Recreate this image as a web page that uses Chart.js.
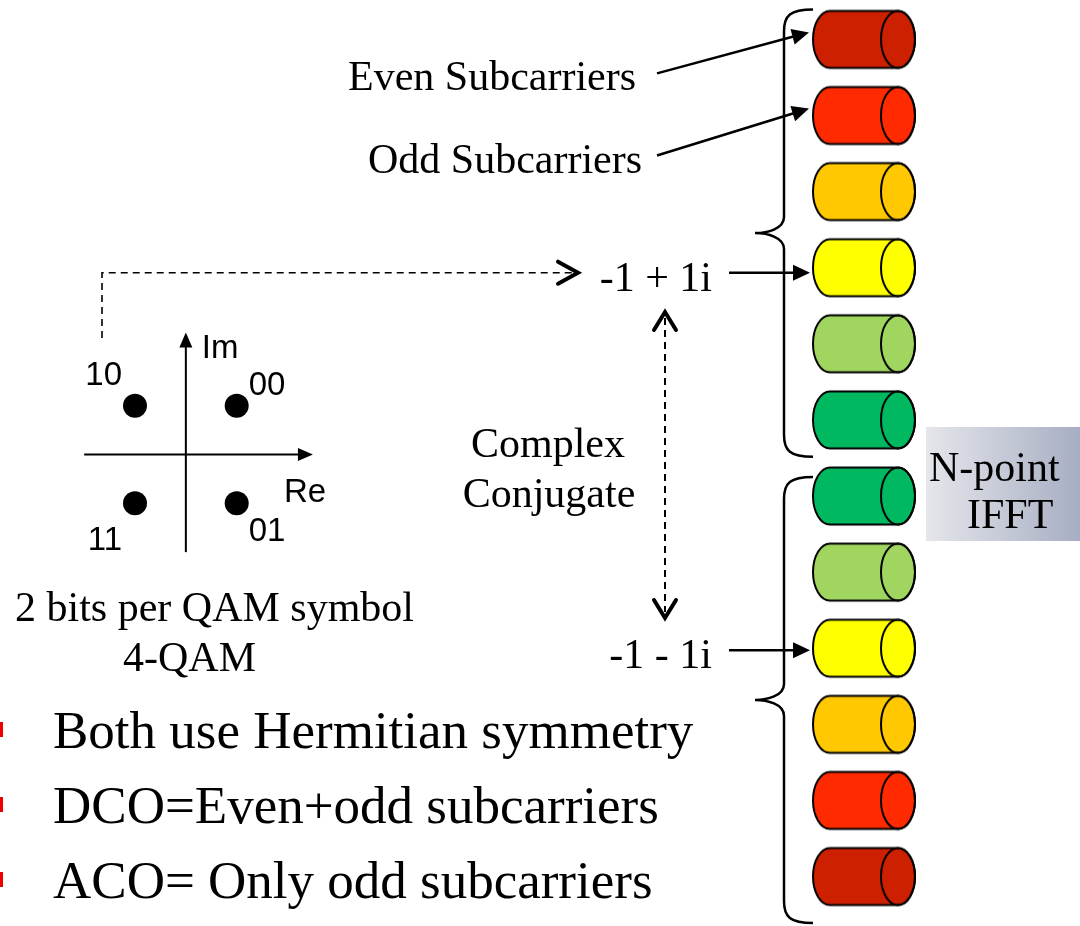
<!DOCTYPE html>
<html>
<head>
<meta charset="utf-8">
<title>ACO / DCO subcarrier mapping</title>
<script src="https://cdn.jsdelivr.net/npm/chart.js@4.4.1/dist/chart.umd.min.js"></script>
<style>
  html, body { margin: 0; padding: 0; background: #fff; overflow: hidden; }
  #wrap { width: 1080px; height: 926px; position: relative; }
</style>
</head>
<body>
<div id="wrap"><canvas id="diagram"></canvas></div>
<script>
// 4-QAM constellation (Re, Im) and the bit pairs they carry
const qamRe = [1, -1, -1, 1];
const qamIm = [1, 1, -1, -1];
const qamBits = ['00', '10', '11', '01'];

// subcarrier stack, top to bottom (mirrored for Hermitian symmetry)
const subcarrierColors = ['#cc2000', '#ff2a00', '#ffc800', '#ffff00', '#a0d660', '#00b860',
                          '#00b860', '#a0d660', '#ffff00', '#ffc800', '#ff2a00', '#cc2000'];
const subcarrierIdx = subcarrierColors.map((c, i) => i);

const calloutLabels = ['Even Subcarriers', 'Odd Subcarriers'];
const calloutTargets = [0, 1];

const symbolLabels = ['-1 + 1i', '-1 - 1i'];
const symbolTargets = [3, 8];

const captionLines = ['2 bits per QAM symbol', '4-QAM'];
const conjugateLines = ['Complex', 'Conjugate'];
const ifftLines = ['N-point', 'IFFT'];
const bulletLines = ['Both use Hermitian symmetry', 'DCO=Even+odd subcarriers', 'ACO= Only odd subcarriers'];

// layout
const STACK_X = 864;
const SERIF = '"Liberation Serif", "Times New Roman", serif';
const SANS = '"Liberation Sans", Arial, sans-serif';

function cylinderImage(color) {
    const c = document.createElement('canvas');
    c.width = 106; c.height = 62;
    const g = c.getContext('2d');
    const cx = 53, cy = 31, rx = 17, ry = 28.5, half = 34;
    g.lineWidth = 2;
    g.strokeStyle = '#000';
    g.fillStyle = color;
    g.beginPath();
    g.ellipse(cx - half, cy, rx, ry, 0, Math.PI / 2, Math.PI * 1.5);
    g.lineTo(cx + half, cy - ry);
    g.ellipse(cx + half, cy, rx, ry, 0, -Math.PI / 2, Math.PI / 2);
    g.closePath();
    g.fill();
    g.stroke();
    g.beginPath();
    g.ellipse(cx + half, cy, rx, ry, 0, 0, Math.PI * 2);
    g.stroke();
    return c;
}

function solidArrow(ctx, x1, y1, x2, y2, len, hw, lw) {
    const a = Math.atan2(y2 - y1, x2 - x1);
    const bx = x2 - len * Math.cos(a), by = y2 - len * Math.sin(a);
    ctx.lineWidth = lw;
    ctx.beginPath();
    ctx.moveTo(x1, y1);
    ctx.lineTo(bx + Math.cos(a), by + Math.sin(a));
    ctx.stroke();
    ctx.beginPath();
    ctx.moveTo(x2, y2);
    ctx.lineTo(bx - hw * Math.sin(a), by + hw * Math.cos(a));
    ctx.lineTo(bx + hw * Math.sin(a), by - hw * Math.cos(a));
    ctx.closePath();
    ctx.fill();
}

function chevron(ctx, x, y, angle, len, hw) {
    const bx = x - len * Math.cos(angle), by = y - len * Math.sin(angle);
    ctx.save();
    ctx.setLineDash([]);
    ctx.lineWidth = 4;
    ctx.lineCap = 'round';
    ctx.lineJoin = 'miter';
    ctx.beginPath();
    ctx.moveTo(bx - hw * Math.sin(angle), by + hw * Math.cos(angle));
    ctx.lineTo(x, y);
    ctx.lineTo(bx + hw * Math.sin(angle), by - hw * Math.cos(angle));
    ctx.stroke();
    ctx.restore();
}

function brace(ctx, xEnd, xLine, xTip, top, bottom) {
    const mid = (top + bottom) / 2;
    ctx.beginPath();
    ctx.moveTo(xEnd, top);
    ctx.bezierCurveTo(xLine + 6, top, xLine, top + 6, xLine, top + 22);
    ctx.lineTo(xLine, mid - 16);
    ctx.bezierCurveTo(xLine, mid - 4, xTip + 12, mid, xTip, mid);
    ctx.bezierCurveTo(xTip + 12, mid, xLine, mid + 4, xLine, mid + 16);
    ctx.lineTo(xLine, bottom - 22);
    ctx.bezierCurveTo(xLine, bottom - 6, xLine + 6, bottom, xEnd, bottom);
    ctx.stroke();
}

const diagramPlugin = {
    id: 'diagram',
    beforeDatasetsDraw(chart) {
        const ctx = chart.ctx;
        const { x, y, xIQ, yIQ, ySub } = chart.scales;
        const px = v => x.getPixelForValue(v);
        const py = v => y.getPixelForValue(v);
        const subY = i => ySub.getPixelForValue(i);
        const stackLeft = px(STACK_X) - 51;

        ctx.save();
        ctx.strokeStyle = '#000';
        ctx.fillStyle = '#000';
        ctx.lineCap = 'butt';

        // constellation axes
        const ox = xIQ.getPixelForValue(0), oy = yIQ.getPixelForValue(0);
        solidArrow(ctx, xIQ.getPixelForValue(-2), oy, xIQ.getPixelForValue(2.5), oy, 15, 6.5, 2);
        solidArrow(ctx, ox, yIQ.getPixelForValue(-2), ox, yIQ.getPixelForValue(2.5), 15, 6.5, 2);

        ctx.font = '33px ' + SANS;
        ctx.textBaseline = 'alphabetic';
        ctx.textAlign = 'left';
        ctx.fillText('Im', ox + 16, yIQ.getPixelForValue(2.5) + 25);
        ctx.fillText('Re', xIQ.getPixelForValue(2.5) - 29, oy + 47);
        qamBits.forEach((bits, i) => {
            const cx = xIQ.getPixelForValue(qamRe[i]);
            const cy = yIQ.getPixelForValue(qamIm[i]);
            const left = qamRe[i] < 0;
            const dy = qamIm[i] > 0 ? (left ? -21 : -11) : (left ? 47 : 38);
            ctx.textAlign = left ? 'right' : 'left';
            ctx.fillText(bits, left ? cx - 13 : cx + 12, cy + dy);
        });

        // dashed mapping path from "10" to the first symbol
        const symY = subY(symbolTargets[0]) + 5;
        ctx.save();
        ctx.lineWidth = 1.6;
        ctx.setLineDash([7, 5]);
        ctx.beginPath();
        ctx.moveTo(px(102), py(338));
        ctx.lineTo(px(102), symY);
        ctx.lineTo(px(574), symY);
        ctx.stroke();
        ctx.restore();
        chevron(ctx, px(578), symY, 0, 20, 11);

        // braces around the two halves of the stack
        ctx.lineWidth = 2.5;
        brace(ctx, stackLeft, px(784), px(755), ySub.getPixelForValue(-0.394), ySub.getPixelForValue(5.484));
        brace(ctx, stackLeft, px(784), px(755), ySub.getPixelForValue(5.75), ySub.getPixelForValue(11.61));

        // callouts
        ctx.font = '42px ' + SERIF;
        ctx.textAlign = 'left';
        const calloutX = [348, 368];
        calloutLabels.forEach((lab, i) => {
            const ty = subY(calloutTargets[i]);
            const base = ty + 51 + i * 6;
            ctx.fillText(lab, px(calloutX[i]), base);
            solidArrow(ctx, px(657), base - 17, stackLeft - 4, ty - 7, 17, 8, 2.5);
        });

        // symbol labels and arrows
        symbolLabels.forEach((lab, i) => {
            const ty = subY(symbolTargets[i]) + (i === 0 ? 5 : 2);
            ctx.textAlign = 'right';
            ctx.fillText(lab, px(712), ty + 18);
            solidArrow(ctx, px(729), ty, stackLeft - 3, ty, 17, 8, 2.5);
        });

        // complex conjugate link
        const cTop = py(312), cBot = py(618), cX = px(665);
        ctx.save();
        ctx.lineWidth = 2;
        ctx.setLineDash([7, 5]);
        ctx.beginPath();
        ctx.moveTo(cX, cTop + 6);
        ctx.lineTo(cX, cBot - 6);
        ctx.stroke();
        ctx.restore();
        chevron(ctx, cX, cTop, -Math.PI / 2, 18, 11);
        chevron(ctx, cX, cBot, Math.PI / 2, 18, 11);

        ctx.textAlign = 'center';
        ctx.fillText(conjugateLines[0], px(548), py(457));
        ctx.fillText(conjugateLines[1], px(549), py(507));

        // N-point IFFT box
        const bx0 = px(926), bx1 = px(1080), by0 = py(427), by1 = py(541);
        const grad = ctx.createLinearGradient(bx0, 0, bx1, 0);
        grad.addColorStop(0, '#e5e6eb');
        grad.addColorStop(1, '#a7aec3');
        ctx.fillStyle = grad;
        ctx.fillRect(bx0, by0, bx1 - bx0, by1 - by0);
        ctx.fillStyle = '#000';
        ctx.textAlign = 'left';
        ctx.fillText(ifftLines[0], px(929), py(481));
        ctx.fillText(ifftLines[1], px(967), py(528));

        // constellation caption
        ctx.fillText(captionLines[0], px(15), py(621));
        ctx.fillText(captionLines[1], px(123), py(671));

        // bullets
        ctx.font = '53px ' + SERIF;
        bulletLines.forEach((line, i) => {
            const base = py(748 + i * 75);
            ctx.fillStyle = '#ee0000';
            ctx.fillRect(px(0), base - 26, 3, 15);
            ctx.fillStyle = '#000';
            ctx.fillText(line, px(53), base);
        });

        ctx.restore();
    }
};

new Chart(document.getElementById('diagram'), {
    type: 'scatter',
    data: {
        datasets: [
            {
                label: 'Subcarriers',
                xAxisID: 'x',
                yAxisID: 'ySub',
                data: subcarrierIdx.map(i => ({ x: STACK_X, y: i })),
                pointStyle: subcarrierColors.map(cylinderImage),
                pointRadius: 30,
                pointHoverRadius: 30
            },
            {
                label: '4-QAM',
                xAxisID: 'xIQ',
                yAxisID: 'yIQ',
                data: qamRe.map((re, i) => ({ x: re, y: qamIm[i] })),
                pointRadius: 12,
                pointHoverRadius: 12,
                backgroundColor: '#000',
                borderColor: '#000',
                borderWidth: 0
            }
        ]
    },
    options: {
        responsive: true,
        maintainAspectRatio: false,
        devicePixelRatio: 1,
        animation: false,
        events: [],
        layout: { padding: 0, autoPadding: false },
        plugins: {
            legend: { display: false },
            tooltip: { enabled: false }
        },
        scales: {
            x: { type: 'linear', min: 0, max: 1080, display: false },
            y: { type: 'linear', min: 0, max: 926, reverse: true, display: false },
            xIQ: { type: 'linear', axis: 'x', min: -3.655, max: 17.585, display: false },
            yIQ: { type: 'linear', axis: 'y', min: -9.661, max: 9.314, display: false },
            ySub: { type: 'linear', axis: 'y', min: -0.5177, max: 11.650, reverse: true, display: false }
        }
    },
    plugins: [diagramPlugin]
});
</script>
</body>
</html>
